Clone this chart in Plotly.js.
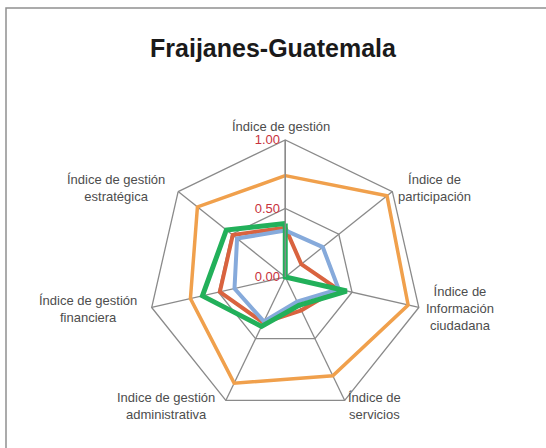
<!DOCTYPE html>
<html>
<head>
<meta charset="utf-8">
<script src="https://cdn.plot.ly/plotly-3.0.1.min.js"></script>
<style>
  html, body { margin: 0; padding: 0; background: #fff; }
  #radar { width: 546px; height: 448px; }
</style>
</head>
<body>
<div id="radar"></div>
<script>
// Radar de índices - Fraijanes, Guatemala

var categorias = [
  'Índice de gestión',
  'Índice de participación',
  'Índice de Información ciudadana',
  'Índice de servicios',
  'Indice de gestión administrativa',
  'Índice de gestión financiera',
  'Índice de gestión estratégica'
];

// texto de cada eje tal como aparece (con saltos de línea)
var etiquetas = [
  'Índice de gestión',
  'Índice de<br>participación',
  'Índice de<br>Información<br>ciudadana',
  'Índice de<br>servicios',
  'Indice de gestión<br>administrativa',
  'Índice de gestión<br>financiera',
  'Índice de gestión<br>estratégica'
];

var serieNaranja = [0.74, 0.95, 0.92, 0.80, 0.86, 0.71, 0.82];
var serieRoja    = [0.36, 0.15, 0.39, 0.27, 0.37, 0.49, 0.49];
var serieAzul    = [0.34, 0.35, 0.40, 0.20, 0.36, 0.38, 0.45];
var serieVerde   = [0.39, 0.00, 0.46, 0.23, 0.40, 0.62, 0.55];

var radialTicks = [0, 0.5, 1];
var radialLabels = ['0.00', '0.50', '1.00'];

// posición (px) del centro de cada etiqueta, como en Excel
var etiquetaX = [281, 435, 460, 374, 166, 88, 116];
var etiquetaY = [127, 188, 308, 406, 406, 309, 188];

var W = 546, H = 448;

// cerrar el polígono repitiendo el primer punto
function cerrar(arr) { return arr.concat([arr[0]]); }

function serie(valores, color, ancho, nombre) {
  return {
    type: 'scatterpolar',
    mode: 'lines',
    r: cerrar(valores),
    theta: cerrar(categorias),
    line: { color: color, width: ancho },
    name: nombre,
    hoverinfo: 'skip'
  };
}

var data = [
  serie(serieNaranja, '#F0A04C', 3.5, 'Serie 1'),
  serie(serieRoja, '#D9633F', 4, 'Serie 2'),
  serie(serieAzul, '#86AADB', 4, 'Serie 3'),
  serie(serieVerde, '#22B05A', 5, 'Serie 4')
];

var annotations = etiquetas.map(function (t, i) {
  return {
    text: t,
    xref: 'paper', yref: 'paper',
    x: etiquetaX[i] / W,
    y: 1 - etiquetaY[i] / H,
    xanchor: 'center', yanchor: 'middle',
    align: 'center',
    showarrow: false,
    font: { size: 13, color: '#4d4d4d' }
  };
});

var gris = '#8A8A8A';

var layout = {
  width: W,
  height: H,
  margin: { l: 0, r: 0, t: 0, b: 0 },
  paper_bgcolor: '#fff',
  showlegend: false,
  font: { family: 'Liberation Sans, Arial, sans-serif', color: '#404040', size: 13 },
  title: {
    text: '<b>Fraijanes-Guatemala</b>',
    font: { family: 'Liberation Sans, Arial, sans-serif', size: 25, color: '#1a1a1a' },
    x: 0.5, xanchor: 'center',
    y: 0.893, yanchor: 'middle'
  },
  polar: {
    domain: { x: [0.2715, 0.7734], y: [0.0759, 0.6875] },
    gridshape: 'linear',
    bgcolor: 'rgba(0,0,0,0)',
    angularaxis: {
      direction: 'clockwise',
      rotation: 90,
      linecolor: gris,
      linewidth: 1.3,
      gridcolor: gris,
      gridwidth: 1.3,
      ticks: '',
      showticklabels: false
    },
    radialaxis: {
      range: [0, 1],
      tickvals: radialTicks,
      ticktext: radialLabels,
      angle: 90,
      tickangle: 90,
      side: 'counterclockwise',
      showline: true,
      linecolor: gris,
      linewidth: 1.3,
      gridcolor: gris,
      gridwidth: 1.3,
      ticks: '',
      tickfont: { size: 13, color: '#C8323C' }
    }
  },
  annotations: annotations,
  shapes: [{
    type: 'rect',
    xref: 'paper', yref: 'paper',
    x0: 6 / W, x1: 1.05,
    y0: -0.05, y1: 1 - 8 / H,
    line: { color: '#909090', width: 1.5 },
    fillcolor: 'rgba(0,0,0,0)',
    layer: 'below'
  }]
};

Plotly.newPlot('radar', data, layout, { displayModeBar: false, staticPlot: true });
</script>
</body>
</html>
